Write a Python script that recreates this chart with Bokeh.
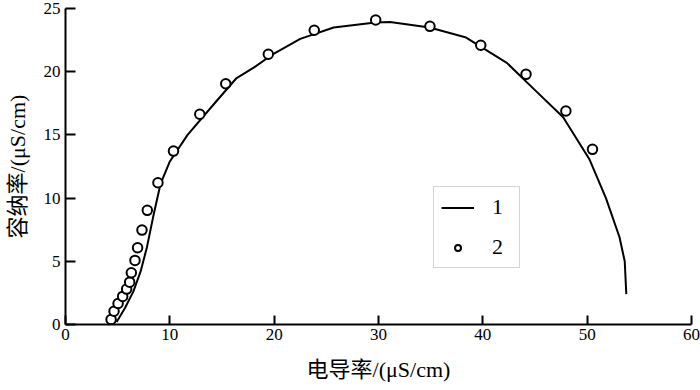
from bokeh.plotting import figure
from bokeh.models import Range1d, FixedTicker, Legend, LegendItem
from bokeh.embed import file_html
from bokeh.resources import INLINE

# curve 1 (model)
line_x = [4.9, 5.7, 6.5, 7.2, 7.8, 8.45, 9.1, 10.0, 11.7, 14.5, 16.4, 18.0, 19.9, 22.5,
          25.7, 29.7, 31.1, 34.9, 38.4, 42.3, 44.8, 47.7, 50.2, 51.8, 53.1, 53.6, 53.75]
line_y = [0.2, 1.3, 2.6, 4.2, 6.1, 8.7, 11.1, 12.9, 15.0, 17.7, 19.5, 20.3, 21.4, 22.6,
          23.5, 23.9, 23.93, 23.5, 22.7, 20.7, 18.7, 16.4, 13.1, 10.0, 6.9, 5.0, 2.4]

# series 2 (measured)
pt_x = [4.37, 4.65, 5.04, 5.48, 5.86, 6.15, 6.31, 6.66, 6.91, 7.33, 7.84, 8.86, 10.35,
        12.87, 15.36, 19.44, 23.84, 29.73, 34.93, 39.80, 44.14, 47.96, 50.51]
pt_y = [0.40, 1.05, 1.66, 2.22, 2.80, 3.35, 4.09, 5.07, 6.07, 7.47, 9.03, 11.21, 13.72,
        16.63, 19.05, 21.38, 23.28, 24.09, 23.59, 22.09, 19.79, 16.89, 13.86]

x_ticks = [0, 10, 20, 30, 40, 50, 60]
y_ticks = [0, 5, 10, 15, 20, 25]
x_label = "电导率/(μS/cm)"
y_label = "容纳率/(μS/cm)"
legend_labels = ["1", "2"]

SERIF = "Liberation Serif"
MIXED = "Liberation Serif, Noto Sans CJK SC"

p = figure(frame_width=626, frame_height=316, output_backend="svg", toolbar_location=None,
           x_range=Range1d(0, 60), y_range=Range1d(0, 25),
           min_border_left=65, min_border_right=9, min_border_top=8, min_border_bottom=66)
p.outline_line_color = None
p.grid.visible = False
p.background_fill_color = "white"

ln = p.line(line_x, line_y, line_color="black", line_width=2)
sc = p.scatter(pt_x, pt_y, marker="circle", size=9.5, fill_color="white",
               line_color="black", line_width=2)

for ax in (p.xaxis[0], p.yaxis[0]):
    ax.axis_line_width = 2
    ax.axis_line_color = "black"
    ax.major_tick_line_width = 2
    ax.major_tick_out = 0
    ax.minor_tick_line_color = None
    ax.major_label_text_font = SERIF
    ax.major_label_text_font_size = "17px"
    ax.major_label_text_color = "black"
    ax.axis_label_text_font = MIXED
    ax.axis_label_text_font_size = "22px"
    ax.axis_label_text_font_style = "normal"
    ax.axis_label_text_color = "black"

p.xaxis.ticker = FixedTicker(ticks=x_ticks)
p.yaxis.ticker = FixedTicker(ticks=y_ticks)
p.xaxis.major_tick_in = 9
p.yaxis.major_tick_in = 10
p.xaxis.major_label_standoff = 4
p.yaxis.major_label_standoff = 5
p.xaxis.axis_label = x_label
p.yaxis.axis_label = y_label
p.xaxis.axis_label_standoff = 14
p.yaxis.axis_label_standoff = 11

legend = Legend(items=[LegendItem(label=legend_labels[0], renderers=[ln]),
                       LegendItem(label=legend_labels[1], renderers=[sc])],
                location=(368, 56))
legend.border_line_color = "#aaaaaa"
legend.border_line_width = 1
legend.background_fill_color = "white"
legend.label_text_font = SERIF
legend.label_text_font_size = "22px"
legend.label_text_color = "black"
legend.glyph_width = 33
legend.glyph_height = 15
legend.label_height = 25
legend.label_standoff = 18
legend.spacing = 14
legend.padding = 7
legend.margin = 0
p.add_layout(legend, "center")

open("out.html", "w").write(file_html(p, INLINE))
